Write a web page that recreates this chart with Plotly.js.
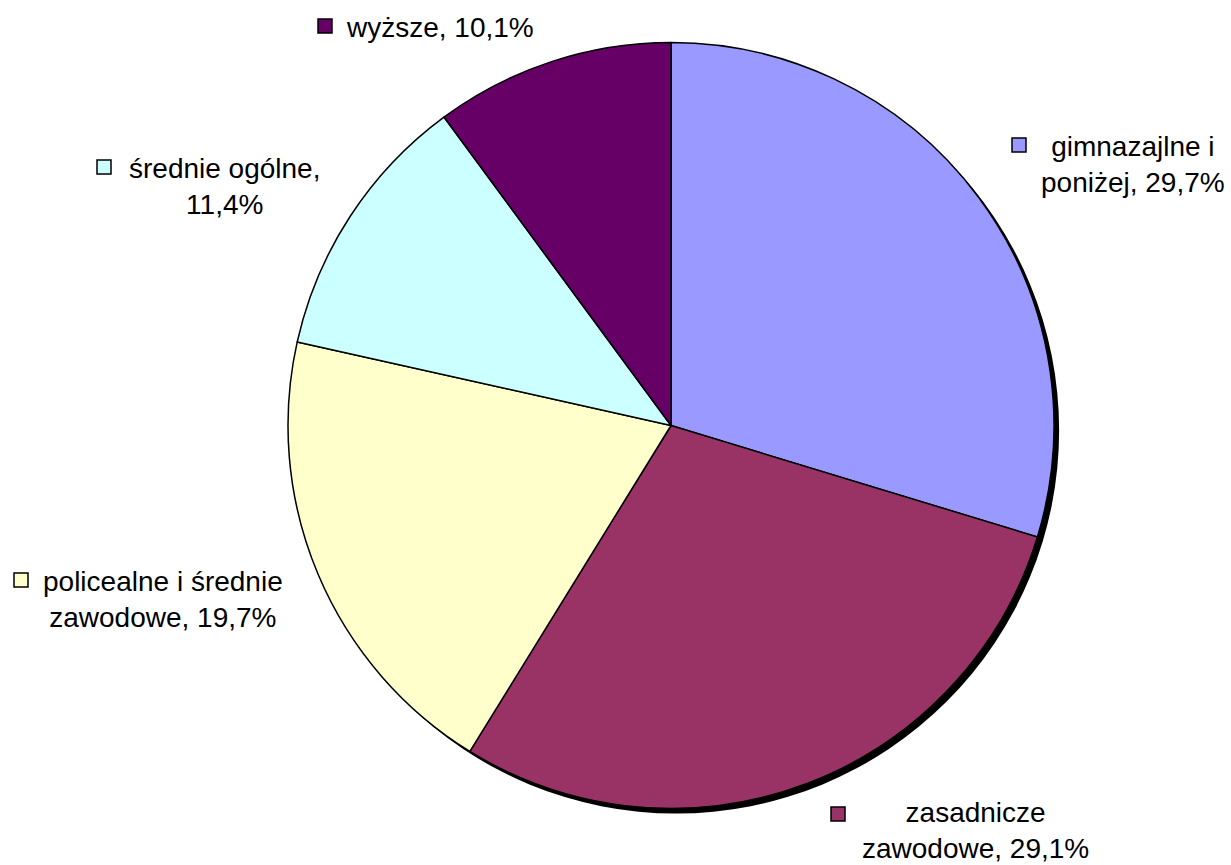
<!DOCTYPE html>
<html>
<head>
<meta charset="utf-8">
<script src="https://cdn.plot.ly/plotly-3.0.1.min.js"></script>
<style>html,body{margin:0;padding:0;background:#fff;}#chart{width:1231px;height:865px;}</style>
</head>
<body>
<div id="chart"></div>
<script>
// Data
const categories = ['gimnazajlne i poniżej', 'zasadnicze zawodowe', 'policealne i średnie zawodowe', 'średnie ogólne', 'wyższe'];
const values = [29.7, 29.1, 19.7, 11.4, 10.1];
const colors = ['#9999FF', '#993366', '#FFFFCC', '#CCFFFF', '#660066'];
// label line split (first line, second line prefix) for display
const labelLines = [
  ['gimnazajlne i', 'poniżej'],
  ['zasadnicze', 'zawodowe'],
  ['policealne i średnie', 'zawodowe'],
  ['średnie ogólne,', ''],
  ['wyższe', null]
];

const W = 1231, H = 865;
const cx = 671, cy = 425.5, R = 383;
function px(x){return x / W;}
function py(y){return 1 - y / H;}
function fmt(v){return v.toFixed(1).replace('.', ',') + '%';}

const shadowOff = 5;
const shadow = {
  type: 'pie', values: [1], sort: false,
  marker: {colors: ['#000000'], line: {width: 0}},
  textinfo: 'none', hoverinfo: 'skip', showlegend: false,
  domain: {x: [px(cx - R + shadowOff), px(cx + R + shadowOff)], y: [py(cy + R + shadowOff), py(cy - R + shadowOff)]}
};
const pie = {
  type: 'pie', labels: categories, values: values, sort: false, direction: 'clockwise', rotation: 0,
  marker: {colors: colors, line: {color: '#000000', width: 1.5}},
  textinfo: 'none', hoverinfo: 'label+percent', showlegend: false,
  domain: {x: [px(cx - R), px(cx + R)], y: [py(cy + R), py(cy - R)]}
};

// label placement (pixels): text center x, text center y, square left x, square center y
const labelPos = [
  {tx: 1133, ty: 165, sx: 1012, sy: 145},
  {tx: 975, ty: 830, sx: 831, sy: 814},
  {tx: 163, ty: 599, sx: 14, sy: 580},
  {tx: 224, ty: 186, sx: 97, sy: 167},
  {tx: 440, ty: 27, sx: 318, sy: 26}
];

const annotations = [], shapes = [];
categories.forEach((c, i) => {
  const l = labelLines[i];
  let text;
  if (l[1] === null) text = l[0] + ', ' + fmt(values[i]);
  else if (l[1] === '') text = l[0] + '<br>' + fmt(values[i]);
  else text = l[0] + '<br>' + l[1] + ', ' + fmt(values[i]);
  const p = labelPos[i];
  annotations.push({
    xref: 'paper', yref: 'paper', x: px(p.tx), y: py(p.ty), xanchor: 'center', yanchor: 'middle',
    text: text, showarrow: false, align: 'center',
    font: {family: 'Liberation Sans, Arial, sans-serif', size: 28, color: '#000000'}
  });
  const s = 14;
  shapes.push({
    type: 'rect', xref: 'paper', yref: 'paper',
    x0: px(p.sx), x1: px(p.sx + s), y0: py(p.sy + s / 2), y1: py(p.sy - s / 2),
    fillcolor: colors[i], line: {color: '#000000', width: 1.5}
  });
});

const layout = {
  width: W, height: H, margin: {l: 0, r: 0, t: 0, b: 0},
  paper_bgcolor: '#ffffff', plot_bgcolor: '#ffffff',
  showlegend: false, annotations: annotations, shapes: shapes
};
Plotly.newPlot('chart', [shadow, pie], layout, {displayModeBar: false, staticPlot: true});
</script>
</body>
</html>
